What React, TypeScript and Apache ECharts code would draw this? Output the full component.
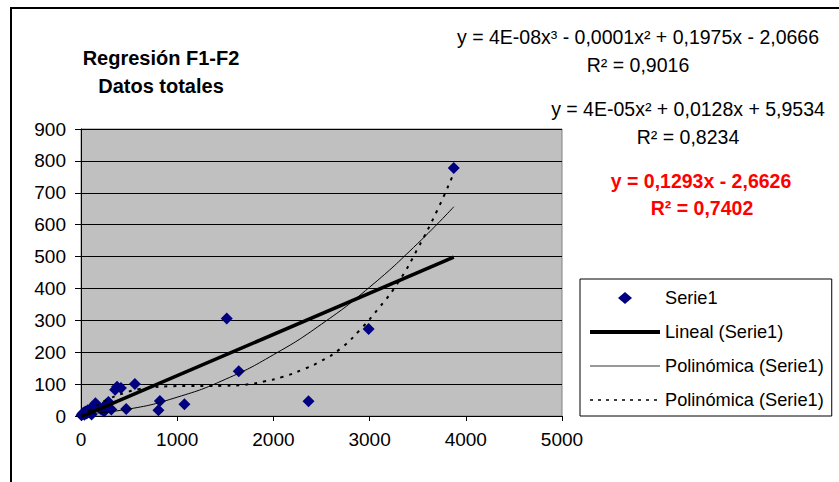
import React, { useEffect, useRef } from "react";
import * as echarts from "echarts";

// Scatter data (Serie1): [x, y]
const serie1X = [5, 15, 25, 35, 45, 60, 70, 85, 95, 110, 130, 150, 170, 210, 240, 265, 285, 315, 355, 375, 415, 470, 560, 805, 820, 1075, 1515, 1640, 2365, 2990, 3875];
const serie1Y = [2, 6, 10, 4, 14, 8, 18, 12, 22, 5, 28, 40, 32, 20, 14, 38, 44, 20, 82, 92, 88, 22, 100, 18, 47, 37, 306, 140, 46, 273, 778];

// Linear trend
const linX = [0, 3875];
const linY = [-2.7, 498];

// Quadratic trend (thin solid line)
const quadX = [0, 500, 1000, 1500, 2000, 2500, 3000, 3500, 3875];
const quadY = [6, 22, 59, 115, 192, 288, 404, 541, 656];

// Cubic trend (dotted line)
const cubX = [0, 150, 300, 450, 600, 750, 900, 1100, 1300, 1500, 1700, 1900, 2100, 2300, 2500, 2700, 2900, 3100, 3300, 3500, 3700, 3875];
const cubY = [0, 30, 55, 72, 84, 90, 93, 94, 94, 95, 98, 108, 123, 145, 173, 212, 270, 340, 420, 525, 643, 762];

const xTicks = { min: 0, max: 5000, interval: 1000 };
const yTicks = { min: 0, max: 900, interval: 100 };

const titleLines = ["Regresión F1-F2", "Datos totales"];
const eqCubic = ["y = 4E-08x³ - 0,0001x² + 0,1975x - 2,0666", "R² = 0,9016"];
const eqQuad = ["y = 4E-05x² + 0,0128x + 5,9534", "R² = 0,8234"];
const eqLin = ["y = 0,1293x - 2,6626", "R² = 0,7402"];

const legendNames = ["Serie1", "Lineal (Serie1)", "Polinómica (Serie1)", "Polinómica (Serie1) "];

const FONT = "'Liberation Sans', Arial, sans-serif";

const zip = (xs: number[], ys: number[]) => xs.map((x, i) => [x, ys[i]]);

// diamond centred in a 70x12 box (invisible moveTo points set the box)
const DIAMOND_ICON = "path://M0,0 M70,12 M28,6 L35,0 L42,6 L35,12 Z";

export default function App() {
  const ref = useRef<HTMLDivElement>(null);
  useEffect(() => {
    if (!ref.current) return;
    const chart = echarts.init(ref.current, undefined, { renderer: "svg" });
    const txt = (x: number, y: number, text: string, opts: any = {}) => ({
      type: "text",
      x,
      y,
      style: {
        text,
        fontFamily: FONT,
        fontSize: 19.5,
        fill: "#000",
        align: "center",
        verticalAlign: "middle",
        ...opts,
      },
    });
    chart.setOption({
      animation: false,
      backgroundColor: "#fff",
      textStyle: { fontFamily: FONT },
      grid: {
        left: 81,
        right: 277,
        top: 129,
        bottom: 66,
        show: true,
        backgroundColor: "#C0C0C0",
        borderColor: "#808080",
        borderWidth: 1,
      },
      xAxis: {
        type: "value",
        ...xTicks,
        axisLine: { show: true, lineStyle: { color: "#000", width: 1 } },
        axisTick: { show: true, length: 5, lineStyle: { color: "#000" } },
        axisLabel: { color: "#000", fontSize: 19, margin: 14, fontFamily: FONT, formatter: (v: number) => String(v) },
        splitLine: { show: false },
      },
      yAxis: {
        type: "value",
        ...yTicks,
        axisLine: { show: true, lineStyle: { color: "#000", width: 1 } },
        axisTick: { show: true, length: 6, lineStyle: { color: "#000" } },
        axisLabel: { color: "#000", fontSize: 19, margin: 15, fontFamily: FONT, formatter: (v: number) => String(v) },
        splitLine: { show: true, lineStyle: { color: "#000", width: 1 } },
      },
      legend: {
        orient: "vertical",
        left: 580,
        top: 279,
        itemWidth: 70,
        itemHeight: 12,
        itemGap: 16,
        padding: [10, 3, 7, 8],
        borderColor: "#000",
        borderWidth: 1,
        backgroundColor: "#fff",
        textStyle: { color: "#000", fontSize: 18.2, fontFamily: FONT },
        data: [
          { name: legendNames[0], icon: DIAMOND_ICON, itemStyle: { color: "#000080", opacity: 1 } },
          { name: legendNames[1], itemStyle: { opacity: 0 }, lineStyle: { color: "#000", width: 4 } },
          { name: legendNames[2], itemStyle: { opacity: 0 }, lineStyle: { color: "#777", width: 1.5 } },
          { name: legendNames[3], itemStyle: { opacity: 0 }, lineStyle: { color: "#000", width: 1.5, type: [3, 5] } },
        ],
      },
      series: [
        {
          name: legendNames[0],
          type: "scatter",
          symbol: "diamond",
          symbolSize: 12,
          itemStyle: { color: "#000080", opacity: 1 },
          data: zip(serie1X, serie1Y),
          z: 2,
        },
        {
          name: legendNames[1],
          type: "line",
          symbol: "none",
          lineStyle: { color: "#000", width: 3.5 },
          itemStyle: { color: "#000" },
          data: zip(linX, linY),
          z: 3,
        },
        {
          name: legendNames[2],
          type: "line",
          symbol: "none",
          smooth: true,
          lineStyle: { color: "#000", width: 1 },
          itemStyle: { color: "#000" },
          data: zip(quadX, quadY),
          z: 3,
        },
        {
          name: legendNames[3],
          type: "line",
          symbol: "none",
          smooth: true,
          lineStyle: { color: "#000", width: 2, type: [3, 6] },
          itemStyle: { color: "#000" },
          data: zip(cubX, cubY),
          z: 3,
        },
      ],
      graphic: [
        {
          type: "rect",
          shape: { x: 11, y: 8, width: 900, height: 600 },
          style: { fill: "none", stroke: "#000", lineWidth: 2 },
          silent: true,
        },
        txt(161, 58, titleLines[0], { fontWeight: "bold", fontSize: 20 }),
        txt(161, 86, titleLines[1], { fontWeight: "bold", fontSize: 20 }),
        txt(638, 37, eqCubic[0]),
        txt(638, 65, eqCubic[1]),
        txt(688, 109, eqQuad[0]),
        txt(688, 137, eqQuad[1]),
        txt(701, 181, eqLin[0], { fill: "#FF0000", fontWeight: "bold" }),
        txt(702, 208, eqLin[1], { fill: "#FF0000", fontWeight: "bold" }),
      ],
    });
    return () => chart.dispose();
  }, []);
  return <div ref={ref} style={{ width: 839, height: 482, position: "absolute", left: 0, top: 0 }} />;
}
